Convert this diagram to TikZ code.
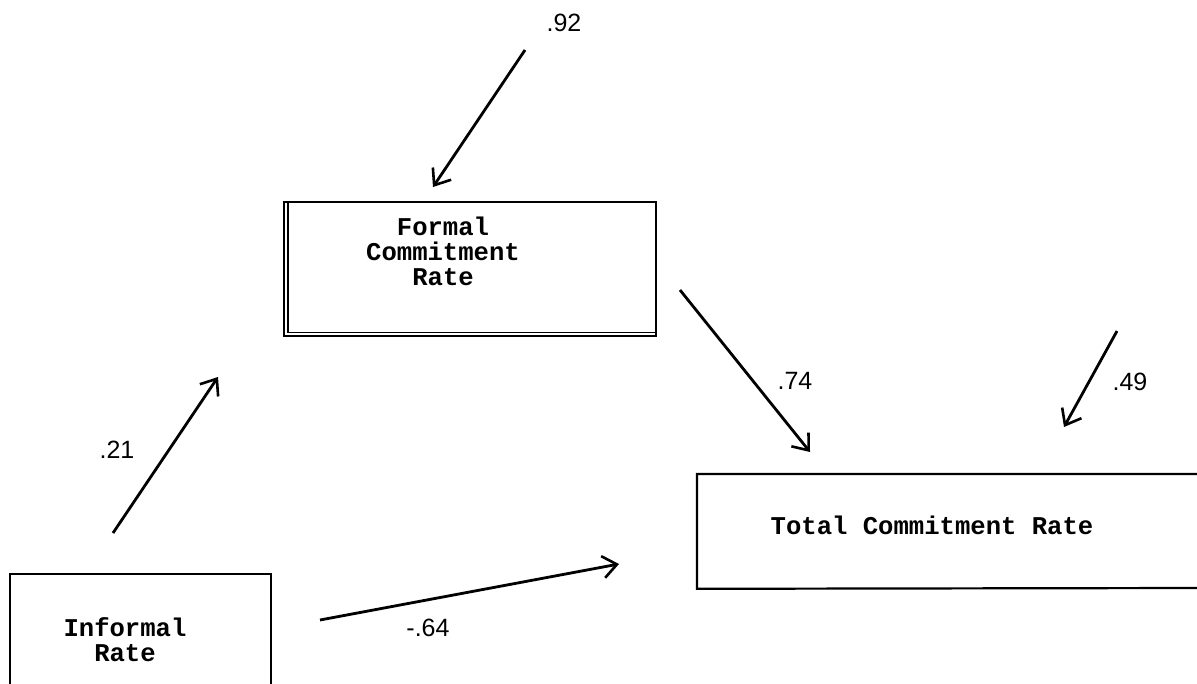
\documentclass[tikz,border=0pt]{standalone}
\usepackage{fontspec}
\setmonofont{Liberation Mono}
\newfontfamily\numfont{Liberation Sans}
\usetikzlibrary{arrows.meta}
\begin{document}
\begin{tikzpicture}[x=0.5pt,y=-0.5pt,
  boxline/.style={line width=1.1pt},
  boxtext/.style={font=\ttfamily\bfseries\fontsize{12.8}{12.5}\selectfont, align=center, inner sep=0pt},
  coef/.style={font=\numfont\fontsize{12.5}{14}\selectfont, inner sep=0pt},
  path arrow/.style={line width=1.4pt, -{Straight Barb[length=7pt,width=11pt,line width=1.3pt]}}]
  \useasboundingbox (0,0) rectangle (1197,684);

  % Formal commitment rate box (closed, doubled left and bottom edges)
  \node[draw, boxline, minimum width=186pt, minimum height=67pt, inner sep=0pt, anchor=north west] (formal) at (283,201) {};
  \draw[line width=0.6pt] ([xshift=2.5pt]formal.north west) -- ([xshift=2.5pt,yshift=2.5pt]formal.south west) -- ([yshift=2.5pt]formal.south east);
  \node[boxtext] (formaltxt) at (443,251) {Formal\\Commitment\\Rate};

  % Total commitment rate box (runs off the right edge)
  \coordinate (ttl) at (1197,474);
  \coordinate (tbl) at (1197,588);
  \node[minimum width=250pt, minimum height=57pt, inner sep=0pt, anchor=north west] (total) at (697,474) {};
  \draw[boxline] (ttl) -- (total.north west) -- (total.south west) -- (tbl);
  \node[boxtext] (totaltxt) at (932,525) {Total Commitment Rate};

  % Informal rate box (open at the bottom)
  \node[minimum width=130pt, minimum height=55pt, inner sep=0pt, anchor=north west] (informal) at (10,574) {};
  \draw[boxline] (informal.south west) -- (informal.north west) -- (informal.north east) -- (informal.south east);
  \node[boxtext] (informaltxt) at (125,640) {Informal\\Rate};

  % Path arrows
  \coordinate (a92s) at (525,50);   \coordinate (a92e) at (433,187);
  \coordinate (a21s) at (113,533);  \coordinate (a21e) at (218,377);
  \coordinate (a74s) at (680,290);  \coordinate (a74e) at (810,452);
  \coordinate (a49s) at (1117,331); \coordinate (a49e) at (1064,427);
  \coordinate (a64s) at (320,620);  \coordinate (a64e) at (619,564);

  \draw[path arrow] (a92s) -- (a92e);
  \draw[path arrow] (a21s) -- (a21e);
  \draw[path arrow] (a74s) -- (a74e);
  \draw[path arrow] (a49s) -- (a49e);
  \draw[path arrow] (a64s) -- (a64e);

  % Path coefficients
  \node[coef] (c92) at (564,23) {.92};
  \node[coef] (c21) at (117,450) {.21};
  \node[coef] (c74) at (795,381) {.74};
  \node[coef] (c49) at (1130,382) {.49};
  \node[coef] (c64) at (428,628) {-.64};
\end{tikzpicture}
\end{document}
